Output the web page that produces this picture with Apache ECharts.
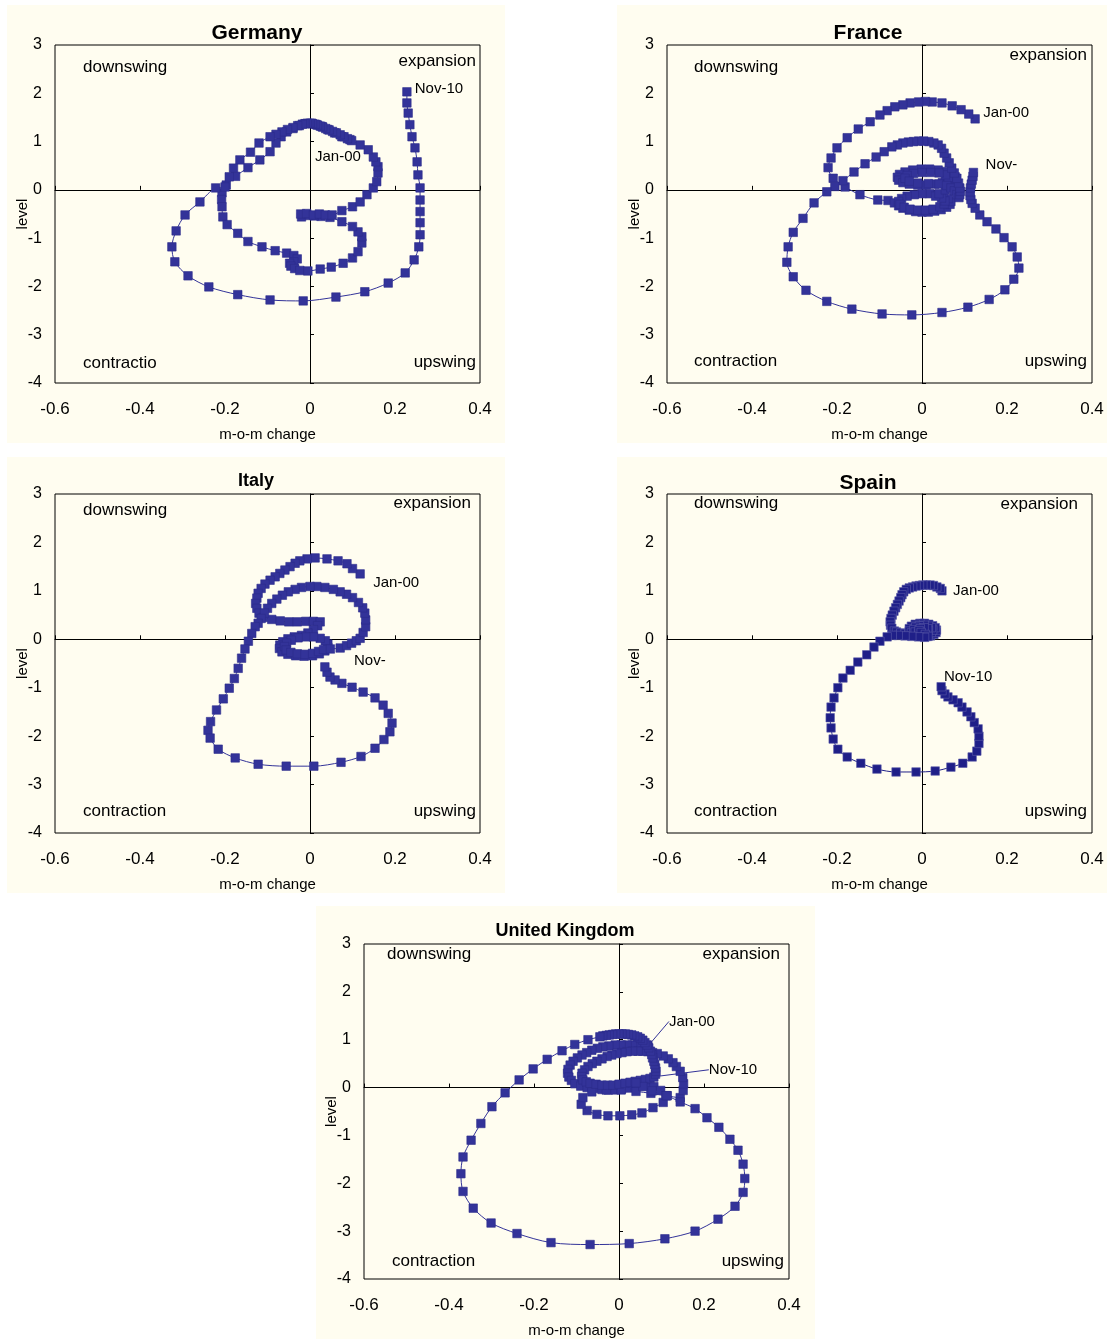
<!DOCTYPE html>
<html><head><meta charset="utf-8">
<script src="https://cdn.jsdelivr.net/npm/echarts@6/dist/echarts.min.js"></script>
<style>html,body{margin:0;padding:0;background:#fff;}#c{width:1109px;height:1339px;}</style>
</head><body><div id="c"></div>
<script>
// ---- tick labels ----
const xTickLabels = ['-0.6','-0.4','-0.2','0','0.2','0.4'];
const yTickLabels = ['-4','-3','-2','-1','0','1','2','3'];

// ---- series values: [m-o-m change, level], Jan-00 ... Nov-10 ----
const germany = [
[0.094,1.04],[0.075,1.10],[0.058,1.18],[0.042,1.25],[0.028,1.31],[0.015,1.35],[0.004,1.38],[-0.010,1.37],[-0.025,1.33],[-0.040,1.27],[-0.055,1.20],[-0.068,1.10],[-0.080,0.97],[-0.094,0.79],[-0.118,0.62],[-0.146,0.46],[-0.175,0.28],[-0.197,0.10],[-0.207,-0.06],[-0.208,-0.20],[-0.207,-0.35],[-0.205,-0.56],[-0.195,-0.72],[-0.170,-0.90],[-0.146,-1.07],[-0.113,-1.18],[-0.082,-1.26],[-0.055,-1.31],[-0.038,-1.36],[-0.030,-1.43],[-0.038,-1.49],[-0.048,-1.52],[-0.045,-1.58],[-0.036,-1.63],[-0.024,-1.67],[-0.005,-1.68],[0.024,-1.64],[0.050,-1.60],[0.078,-1.52],[0.100,-1.41],[0.113,-1.28],[0.122,-1.10],[0.122,-0.97],[0.113,-0.87],[0.100,-0.76],[0.075,-0.66],[0.047,-0.57],[0.026,-0.55],[0.010,-0.54],[-0.005,-0.53],[-0.020,-0.56],[-0.022,-0.50],[-0.008,-0.49],[0.008,-0.52],[0.022,-0.50],[0.036,-0.52],[0.052,-0.52],[0.075,-0.43],[0.100,-0.35],[0.118,-0.25],[0.134,-0.10],[0.149,0.04],[0.157,0.17],[0.160,0.35],[0.160,0.48],[0.155,0.58],[0.149,0.68],[0.137,0.83],[0.118,0.93],[0.098,1.02],[0.088,1.06],[0.080,1.10],[0.071,1.14],[0.062,1.18],[0.053,1.21],[0.045,1.24],[0.037,1.27],[0.030,1.30],[0.024,1.32],[0.018,1.34],[0.012,1.36],[0.006,1.37],[0.000,1.38],[-0.006,1.38],[-0.012,1.37],[-0.018,1.36],[-0.029,1.33],[-0.040,1.29],[-0.053,1.25],[-0.066,1.20],[-0.080,1.15],[-0.094,1.10],[-0.120,0.97],[-0.140,0.78],[-0.165,0.62],[-0.180,0.45],[-0.190,0.27],[-0.200,0.06],[-0.222,0.04],[-0.259,-0.25],[-0.294,-0.52],[-0.315,-0.85],[-0.325,-1.18],[-0.318,-1.49],[-0.287,-1.78],[-0.238,-2.01],[-0.170,-2.17],[-0.094,-2.28],[-0.016,-2.30],[0.061,-2.22],[0.129,-2.11],[0.184,-1.93],[0.224,-1.72],[0.245,-1.45],[0.256,-1.18],[0.259,-0.93],[0.259,-0.68],[0.259,-0.45],[0.259,-0.21],[0.259,0.04],[0.254,0.31],[0.252,0.58],[0.247,0.87],[0.240,1.10],[0.235,1.35],[0.231,1.59],[0.228,1.80],[0.228,2.03]
];
const france = [
[0.125,1.47],[0.110,1.57],[0.092,1.66],[0.071,1.74],[0.047,1.80],[0.024,1.82],[0.008,1.83],[-0.008,1.82],[-0.028,1.80],[-0.045,1.76],[-0.064,1.72],[-0.082,1.64],[-0.099,1.55],[-0.122,1.41],[-0.150,1.26],[-0.176,1.08],[-0.200,0.87],[-0.214,0.66],[-0.221,0.46],[-0.209,0.24],[-0.181,0.06],[-0.146,-0.10],[-0.104,-0.21],
[-0.080,-0.22],[-0.065,-0.27],[-0.055,-0.33],[-0.045,-0.38],[-0.030,-0.42],[-0.015,-0.45],[0.000,-0.46],[0.015,-0.46],[0.030,-0.44],[0.045,-0.41],[0.058,-0.36],[0.066,-0.30],[0.068,-0.24],[0.062,-0.18],[0.050,-0.13],[0.035,-0.10],[0.018,-0.08],[0.000,-0.08],[-0.018,-0.10],[-0.035,-0.13],[-0.048,-0.18],[-0.055,-0.24],[-0.052,-0.30],[-0.042,-0.36],[-0.028,-0.40],[-0.010,-0.42],[0.008,-0.42],[0.026,-0.40],[0.042,-0.35],[0.052,-0.29],[0.054,-0.23],[0.046,-0.17],[0.032,-0.13],[0.040,-0.08],[0.055,0.00],[0.068,0.06],
[0.076,0.13],[0.080,0.20],[0.078,0.27],[0.070,0.33],[0.056,0.38],[0.038,0.41],[0.018,0.43],[-0.002,0.43],[-0.022,0.41],[-0.040,0.37],[-0.053,0.32],[-0.058,0.26],[-0.055,0.20],[-0.045,0.15],[-0.030,0.12],[-0.010,0.10],[0.010,0.10],[0.030,0.12],[0.048,0.15],[0.060,0.20],[0.062,0.26],[0.055,0.31],[0.040,0.35],[0.020,0.36],[0.000,0.36],[-0.020,0.34],[-0.035,0.30],[-0.040,0.24],[-0.030,0.18],[-0.010,0.14],[0.015,0.13],[0.040,0.12],[0.058,0.09],[0.068,0.04],
[0.076,-0.02],[0.082,-0.10],[0.087,-0.16],[0.089,-0.10],[0.090,-0.03],[0.089,0.04],[0.086,0.14],[0.082,0.24],[0.076,0.35],[0.070,0.45],[0.064,0.56],[0.058,0.66],[0.052,0.76],[0.046,0.86],[0.038,0.93],[0.028,0.97],[0.016,1.00],[0.004,1.01],[-0.008,1.01],[-0.020,1.00],[-0.032,0.99],[-0.045,0.97],[-0.058,0.93],[-0.071,0.89],[-0.089,0.79],[-0.108,0.68],[-0.134,0.54],[-0.160,0.37],[-0.186,0.19],[-0.205,0.07],[-0.224,-0.04],
[-0.254,-0.27],[-0.280,-0.59],[-0.303,-0.88],[-0.315,-1.18],[-0.318,-1.50],[-0.303,-1.80],[-0.273,-2.08],[-0.224,-2.31],[-0.165,-2.47],[-0.094,-2.57],[-0.024,-2.59],[0.047,-2.54],[0.108,-2.43],[0.158,-2.27],[0.195,-2.07],[0.216,-1.85],[0.228,-1.62],[0.224,-1.39],[0.212,-1.18],[0.193,-0.99],[0.174,-0.81],[0.153,-0.66],[0.136,-0.52],[0.125,-0.38],[0.118,-0.28],[0.115,-0.20],[0.113,-0.12],[0.113,-0.04],[0.114,0.04],[0.116,0.12],[0.118,0.20],[0.120,0.28],[0.121,0.36]
];
const italy = [
[0.118,1.35],[0.100,1.46],[0.087,1.56],[0.066,1.62],[0.040,1.66],[0.012,1.68],[-0.007,1.66],[-0.024,1.62],[-0.035,1.57],[-0.047,1.50],[-0.059,1.43],[-0.071,1.36],[-0.082,1.29],[-0.094,1.22],[-0.106,1.14],[-0.115,1.05],[-0.122,0.95],[-0.125,0.85],[-0.128,0.74],[-0.125,0.64],[-0.120,0.54],[-0.110,0.45],[-0.090,0.41],[-0.070,0.38],[-0.050,0.36],[-0.030,0.36],[-0.010,0.37],[0.008,0.37],[0.024,0.36],
[0.018,0.28],[0.008,0.20],[-0.005,0.13],[-0.020,0.08],[-0.037,0.05],[-0.052,0.01],[-0.064,-0.05],[-0.071,-0.12],[-0.072,-0.19],[-0.066,-0.26],[-0.052,-0.31],[-0.034,-0.34],[-0.014,-0.35],[0.006,-0.34],[0.022,-0.30],[0.035,-0.24],[0.042,-0.17],[0.042,-0.10],[0.036,-0.03],[0.024,0.02],[0.008,0.05],[-0.010,0.05],[-0.028,0.03],[-0.044,-0.02],[-0.055,-0.08],[-0.060,-0.15],[-0.056,-0.22],[-0.045,-0.27],[-0.030,-0.30],[-0.012,-0.31],[0.006,-0.29],[0.020,-0.25],[0.032,-0.21],[0.048,-0.20],
[0.071,-0.18],[0.086,-0.13],[0.098,-0.08],[0.109,-0.03],[0.118,0.02],[0.125,0.14],[0.131,0.26],[0.131,0.40],[0.129,0.54],[0.124,0.65],[0.114,0.76],[0.100,0.86],[0.086,0.93],[0.071,0.98],[0.055,1.03],[0.035,1.07],[0.016,1.09],[0.000,1.09],[-0.020,1.07],[-0.035,1.03],[-0.051,0.98],[-0.065,0.91],[-0.078,0.83],[-0.090,0.74],[-0.100,0.64],[-0.107,0.54],[-0.115,0.43],[-0.122,0.33],[-0.129,0.26],[-0.137,0.12],[-0.145,-0.04],[-0.153,-0.20],[-0.161,-0.39],[-0.169,-0.60],[-0.178,-0.81],[-0.190,-1.01],[-0.204,-1.23],[-0.220,-1.46],[-0.234,-1.70],[-0.240,-1.88],[-0.235,-2.04],[-0.216,-2.27],[-0.176,-2.45],[-0.122,-2.58],[-0.056,-2.62],[0.009,-2.62],[0.073,-2.54],[0.120,-2.42],[0.153,-2.25],[0.174,-2.07],[0.188,-1.91],[0.193,-1.73],[0.184,-1.53],[0.172,-1.36],[0.153,-1.21],[0.125,-1.09],[0.099,-0.99],[0.075,-0.91],[0.059,-0.84],[0.047,-0.78],[0.040,-0.68],[0.035,-0.57]
];
const spain = [
[0.047,1.00],[0.043,1.05],[0.035,1.08],[0.027,1.11],[0.019,1.12],[0.010,1.12],[0.002,1.12],[-0.006,1.11],[-0.014,1.10],[-0.022,1.08],[-0.030,1.06],[-0.037,1.03],[-0.043,0.98],[-0.047,0.92],[-0.050,0.86],[-0.054,0.79],[-0.058,0.72],[-0.062,0.65],[-0.066,0.58],[-0.070,0.50],[-0.073,0.43],[-0.075,0.36],[-0.074,0.29],[-0.071,0.23],[-0.065,0.17],
[-0.060,0.15],[-0.050,0.13],[-0.040,0.12],[-0.030,0.11],[-0.020,0.09],[-0.010,0.07],[0.000,0.06],[0.010,0.06],[0.020,0.07],[0.028,0.10],[0.033,0.14],[0.034,0.19],[0.031,0.24],[0.025,0.28],[0.016,0.31],[0.006,0.33],[-0.005,0.33],[-0.016,0.31],[-0.025,0.27],[-0.030,0.22],[-0.030,0.17],[-0.025,0.13],[-0.016,0.10],[-0.006,0.09],[0.005,0.09],[0.015,0.11],[0.022,0.14],[0.025,0.19],[0.022,0.24],[0.015,0.27],[0.005,0.29],[-0.006,0.28],[-0.015,0.25],[-0.019,0.20],[-0.016,0.15],[-0.008,0.12],[0.002,0.12],[0.011,0.14],[0.015,0.18],[0.013,0.22],[0.005,0.24],[-0.004,0.22],[-0.007,0.18],[-0.002,0.14],[0.008,0.10],[0.014,0.06],[0.006,0.04],[-0.008,0.05],[-0.024,0.06],[-0.040,0.07],[-0.056,0.08],[-0.070,0.08],
[-0.082,0.05],[-0.099,-0.04],[-0.113,-0.16],[-0.130,-0.32],[-0.151,-0.47],[-0.169,-0.64],[-0.186,-0.80],[-0.198,-1.00],[-0.207,-1.21],[-0.214,-1.40],[-0.216,-1.62],[-0.214,-1.83],[-0.209,-2.06],[-0.198,-2.27],[-0.176,-2.43],[-0.144,-2.56],[-0.106,-2.68],[-0.061,-2.74],[-0.014,-2.74],[0.031,-2.72],[0.068,-2.64],[0.096,-2.56],[0.118,-2.43],[0.129,-2.31],[0.134,-2.15],[0.134,-2.00],[0.132,-1.85],[0.123,-1.72],[0.115,-1.60],[0.106,-1.50],[0.094,-1.40],[0.085,-1.31],[0.073,-1.25],[0.061,-1.19],[0.054,-1.13],[0.047,-1.06],[0.045,-0.98]
];
const unitedKingdom = [
[0.068,0.88],[0.056,0.88],[0.044,0.88],[0.032,0.89],[0.019,0.89],[0.005,0.89],[-0.009,0.89],[-0.024,0.87],[-0.038,0.85],[-0.051,0.82],[-0.064,0.78],[-0.076,0.73],[-0.087,0.68],[-0.098,0.62],[-0.108,0.55],[-0.115,0.47],[-0.120,0.38],[-0.121,0.30],[-0.118,0.22],[-0.112,0.15],[-0.104,0.08],[-0.090,0.03],[-0.075,0.00],[-0.058,-0.02],[-0.040,-0.04],[-0.025,-0.05],[-0.009,-0.05],[0.006,-0.03],[0.021,-0.01],[0.038,0.01],[0.054,0.04],[0.068,0.05],[0.082,0.02],[0.098,-0.06],[0.113,-0.17],
[0.104,-0.31],[0.080,-0.42],[0.054,-0.53],[0.030,-0.57],[0.002,-0.59],[-0.026,-0.59],[-0.052,-0.56],[-0.075,-0.48],[-0.089,-0.35],[-0.085,-0.21],[-0.064,-0.09],[-0.030,-0.05],[0.005,-0.05],[0.040,-0.08],[0.075,-0.12],[0.110,-0.17],[0.144,-0.21],[0.151,-0.06],[0.152,0.08],[0.150,0.21],[0.144,0.34],[0.135,0.44],[0.127,0.52],[0.116,0.60],[0.104,0.66],
[0.090,0.71],[0.079,0.73],[0.068,0.75],[0.056,0.76],[0.045,0.76],[0.032,0.76],[0.019,0.75],[0.007,0.73],[-0.005,0.71],[-0.017,0.68],[-0.028,0.65],[-0.040,0.60],[-0.052,0.55],[-0.063,0.50],[-0.073,0.44],[-0.081,0.37],[-0.087,0.30],[-0.088,0.23],[-0.085,0.16],[-0.077,0.12],[-0.068,0.09],[-0.054,0.07],[-0.040,0.05],[-0.027,0.05],[-0.014,0.05],[0.000,0.07],[0.014,0.09],[0.026,0.11],[0.038,0.13],[0.050,0.15],[0.062,0.17],[0.073,0.19],[0.082,0.22],[0.086,0.28],[0.087,0.34],[0.086,0.41],[0.084,0.48],[0.082,0.55],[0.079,0.62],[0.077,0.69],[0.074,0.76],[0.070,0.83],[0.066,0.89],[0.061,0.94],[0.056,0.99],[0.050,1.03],[0.044,1.06],[0.037,1.08],[0.030,1.10],[0.022,1.11],[0.015,1.12],[0.007,1.12],[0.000,1.12],[-0.008,1.12],[-0.015,1.11],[-0.023,1.10],[-0.030,1.09],[-0.038,1.08],[-0.045,1.06],
[-0.073,1.00],[-0.104,0.90],[-0.134,0.77],[-0.169,0.59],[-0.202,0.39],[-0.235,0.16],[-0.268,-0.11],[-0.299,-0.40],[-0.325,-0.75],[-0.348,-1.10],[-0.367,-1.45],[-0.372,-1.80],[-0.367,-2.17],[-0.343,-2.52],[-0.301,-2.83],[-0.240,-3.05],[-0.160,-3.24],[-0.068,-3.28],[0.024,-3.26],[0.108,-3.16],[0.179,-3.00],[0.233,-2.75],[0.273,-2.48],[0.292,-2.19],[0.296,-1.90],[0.292,-1.60],[0.280,-1.31],[0.261,-1.08],[0.235,-0.83],[0.207,-0.63],[0.179,-0.44],[0.144,-0.30],[0.113,-0.17],[0.078,-0.07],[0.056,0.02],[0.040,0.10]
];

// ---- layout / style ----
const FONT = '"Liberation Sans", Arial, sans-serif';
const panels = [
  {title:'Germany', data:germany, grid:[55,45,425,338], box:[7,5,498,438], t:[257,33,21], color:'#333399', border:'#2b2b8c',
   quad:[['downswing',83,67,'left'],['expansion',476,61,'right'],['contractio',83,363,'left'],['upswing',476,362,'right']],
   labels:[{first:true,text:'Jan-00',dx:-12,dy:17},{first:false,text:'Nov-10',dx:32,dy:-3}], leader:false},
  {title:'France', data:france, grid:[667,45,425,338], box:[617,5,490,438], t:[868,33,21], color:'#333399', border:'#2b2b8c',
   quad:[['downswing',694,67,'left'],['expansion',1087,55,'right'],['contraction',694,361,'left'],['upswing',1087,361,'right']],
   labels:[{first:true,text:'Jan-00',dx:31,dy:-6},{first:false,text:'Nov-',dx:28,dy:-8}], leader:false},
  {title:'Italy', data:italy, grid:[55,494,425,339], box:[7,457,498,436], t:[256,481,18], color:'#333399', border:'#2b2b8c',
   quad:[['downswing',83,510,'left'],['expansion',471,503,'right'],['contraction',83,811,'left'],['upswing',476,811,'right']],
   labels:[{first:true,text:'Jan-00',dx:36,dy:9},{first:false,text:'Nov-',dx:45,dy:-6}], leader:false},
  {title:'Spain', data:spain, grid:[667,494,425,339], box:[617,457,490,436], t:[868,483,21], color:'#1f1f88', border:'#5a5aa8',
   quad:[['downswing',694,503,'left'],['expansion',1078,504,'right'],['contraction',694,811,'left'],['upswing',1087,811,'right']],
   labels:[{first:true,text:'Jan-00',dx:34,dy:0},{first:false,text:'Nov-10',dx:27,dy:-10}], leader:false},
  {title:'United Kingdom', data:unitedKingdom, grid:[364,944,425,340], box:[316,906,499,433], t:[565,931,18], color:'#333399', border:'#2b2b8c',
   quad:[['downswing',387,954,'left'],['expansion',780,954,'right'],['contraction',392,1261,'left'],['upswing',784,1261,'right']],
   labels:[{first:true,text:'Jan-00',dx:44,dy:-24},{first:false,text:'Nov-10',dx:97,dy:-13}], leader:true}
];

const option = {animation:false, backgroundColor:'#ffffff', grid:[], xAxis:[], yAxis:[], series:[], graphic:[]};

panels.forEach((p, g) => {
  option.graphic.push({type:'rect', z:-100, shape:{x:p.box[0], y:p.box[1], width:p.box[2], height:p.box[3]}, style:{fill:'#FFFDF0'}, silent:true});
  option.graphic.push({type:'text', z:100, x:p.t[0], y:p.t[1], style:{text:p.title, font:'bold '+p.t[2]+'px '+FONT, fill:'#000', textAlign:'center', textVerticalAlign:'middle'}});
  p.quad.forEach(q => option.graphic.push({type:'text', z:100, x:q[1], y:q[2], style:{text:q[0], font:'17px '+FONT, fill:'#000', textAlign:q[3], textVerticalAlign:'middle'}}));

  option.grid.push({left:p.grid[0], top:p.grid[1], width:p.grid[2], height:p.grid[3], show:true, borderColor:'#000', borderWidth:1, backgroundColor:'transparent'});
  const xi = 2*g, yi = 2*g;
  option.xAxis.push({type:'value', gridIndex:g, min:-0.6, max:0.4, interval:0.2, position:'bottom',
    axisLine:{show:false, onZero:false}, axisTick:{show:false}, splitLine:{show:false},
    axisLabel:{margin:18, fontSize:17, color:'#000', fontFamily:FONT, formatter:v => xTickLabels[Math.round((v+0.6)/0.2)]},
    name:'m-o-m change', nameLocation:'middle', nameGap:44, nameMoveOverlap:false, nameTextStyle:{fontSize:15, color:'#000', fontFamily:FONT}});
  option.xAxis.push({type:'value', gridIndex:g, min:-0.6, max:0.4, interval:0.2,
    axisLine:{show:true, onZero:true, onZeroAxisIndex:yi, lineStyle:{color:'#000', width:1}},
    axisTick:{show:true, length:4, lineStyle:{color:'#000'}}, axisLabel:{show:false}, splitLine:{show:false}});
  option.yAxis.push({type:'value', gridIndex:g, min:-4, max:3, interval:1, position:'left',
    axisLine:{show:false, onZero:false}, axisTick:{show:false}, splitLine:{show:false},
    axisLabel:{margin:13, fontSize:16, color:'#000', fontFamily:FONT, formatter:v => yTickLabels[Math.round(v+4)]},
    name:'level', nameLocation:'middle', nameGap:25, nameRotate:90, nameMoveOverlap:false, nameTextStyle:{fontSize:15, color:'#000', fontFamily:FONT}});
  option.yAxis.push({type:'value', gridIndex:g, min:-4, max:3, interval:1,
    axisLine:{show:true, onZero:true, onZeroAxisIndex:xi, lineStyle:{color:'#000', width:1}},
    axisTick:{show:true, length:4, lineStyle:{color:'#000'}}, axisLabel:{show:false}, splitLine:{show:false}});

  const last = p.data.length - 1;
  const labelIdx = p.labels.map(l => ({i: l.first ? 0 : last, l}));
  const items = p.data.map((v, i) => {
    const hit = labelIdx.find(o => o.i === i);
    if (!hit) return {value:v};
    return {value:v, label:{show:true, formatter:hit.l.text, position:'inside', color:'#000', fontSize:15, fontFamily:FONT}};
  });
  option.series.push({
    type:'line', xAxisIndex:xi, yAxisIndex:yi, data:items, smooth:0.3, symbol:'rect', symbolSize:8.5, showAllSymbol:true,
    lineStyle:{color:p.color, width:1}, itemStyle:{color:p.color, borderColor:p.border, borderWidth:0.6},
    label:{show:false}, labelLine:{show:p.leader, lineStyle:{color:'#333399', width:1}},
    labelLayout: function(prm){ const hit = labelIdx.find(o => o.i === prm.dataIndex); return hit ? {dx:hit.l.dx, dy:hit.l.dy} : {}; },
    emphasis:{disabled:true}, z:3, clip:false
  });
});

const chart = echarts.init(document.getElementById('c'), null, {renderer:'canvas'});
chart.setOption(option);
</script></body></html>
